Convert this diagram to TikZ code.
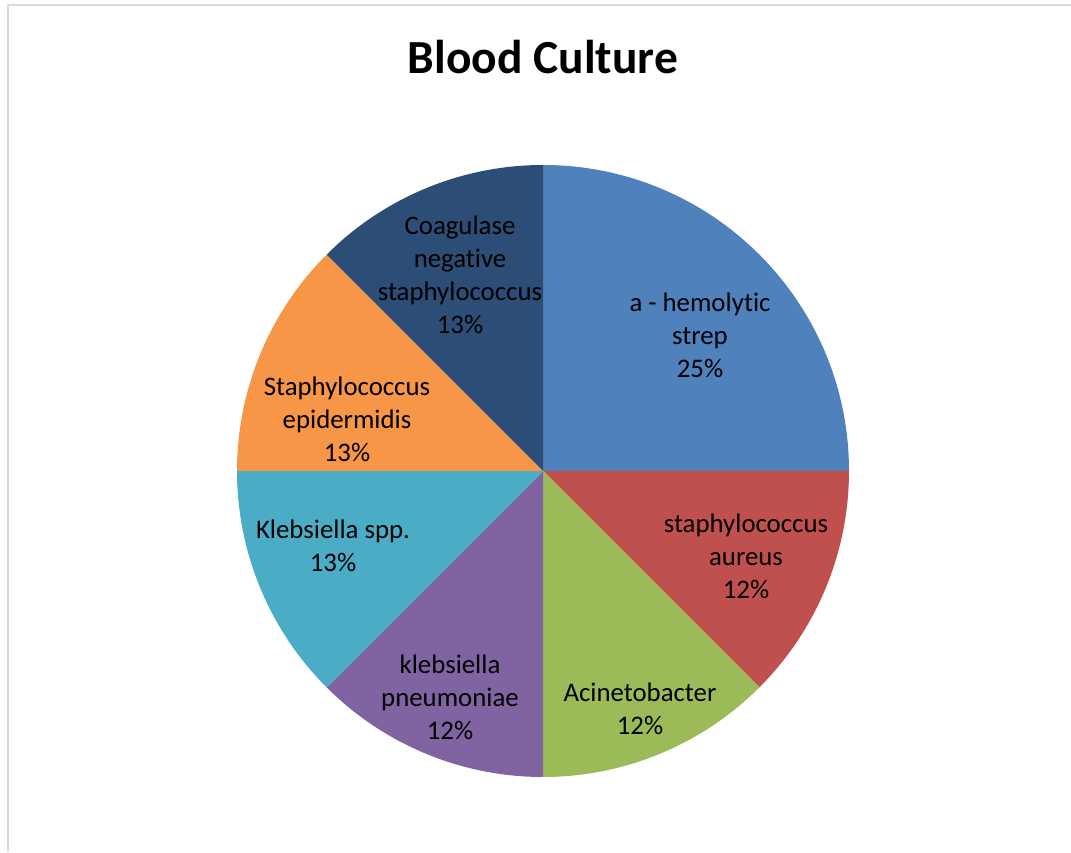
\documentclass[tikz,border=0pt]{standalone}
\usepackage{fontspec}
\setmainfont[Ligatures=NoCommon]{Carlito}
\usepackage{xcolor}
\usepackage{tikz}
\usetikzlibrary{positioning, calc}

\definecolor{sliceblue}{HTML}{4F81BD}
\definecolor{slicered}{HTML}{C0504D}
\definecolor{slicegreen}{HTML}{9BBB59}
\definecolor{slicepurple}{HTML}{8064A2}
\definecolor{sliceaqua}{HTML}{4BACC6}
\definecolor{sliceorange}{HTML}{F79646}
\definecolor{slicenavy}{HTML}{2C4D75}

\begin{document}
\begin{tikzpicture}[
  x=1pt, y=1pt,
  every node/.style={font=\fontsize{26.8}{33}\selectfont},
  lbl/.style={align=center, inner sep=0pt},
  heading/.style={font=\fontsize{47.5}{56}\selectfont\bfseries},
  frame/.style={draw=black!14, line width=2pt}
]
\useasboundingbox (0,0) rectangle (1071,852);

% frame of the chart area
\draw[frame] (7.5,0) -- (7.5,846.5) -- (1071,846.5);

\node[heading] (title) at (543,795) {Blood Culture};

% slices, clockwise from the top
\coordinate (ctr) at (543,381);
\foreach \a/\b/\col in {90/0/sliceblue, 0/-45/slicered, -45/-90/slicegreen,
  -90/-135/slicepurple, -135/-180/sliceaqua, 180/135/sliceorange, 135/90/slicenavy}
  \fill[\col] (ctr) -- ++(\a:306) arc[start angle=\a, end angle=\b, radius=306] -- cycle;

% slice labels
\node[lbl] (hemo) at (700,517) {a - hemolytic\\strep\\25\%};
\node[lbl] (aureus) at (746,296) {staphylococcus\\aureus\\12\%};
\node[lbl] (acineto) at (640,143) {Acinetobacter\\12\%};
\node[lbl] (pneumo) at (450,155) {klebsiella\\pneumoniae\\12\%};
\node[lbl] (kspp) at (333,306) {Klebsiella spp.\\13\%};
\node[lbl] (epider) at (347,433) {Staphylococcus\\epidermidis\\13\%};
\node[lbl] (coag) at (460,577) {Coagulase\\negative\\staphylococcus\\13\%};

\end{tikzpicture}
\end{document}
